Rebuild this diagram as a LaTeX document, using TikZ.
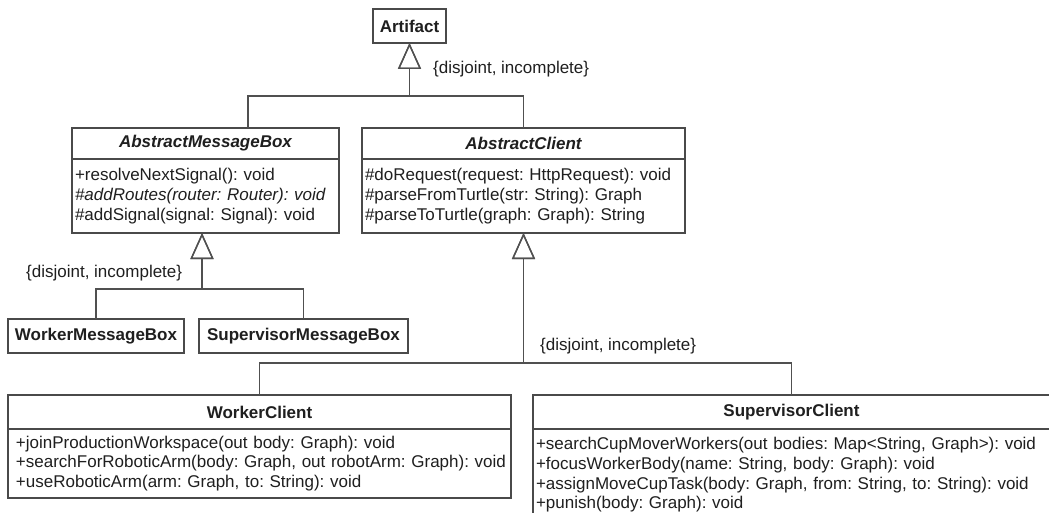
\documentclass[tikz,border=0pt]{standalone}
\usepackage{fontspec}
\setmainfont{Liberation Sans}
\usetikzlibrary{arrows.meta}
\definecolor{boxc}{HTML}{4A4A4A}
\definecolor{linec}{HTML}{505050}
\definecolor{txtc}{HTML}{1F1F1F}
\frenchspacing
\begin{document}
\begin{tikzpicture}[x=1pt,y=-1pt,
  cls/.style={draw=boxc, line width=1.4pt, fill=white, inner sep=0pt, outer sep=0pt,
              anchor=north west, text=txtc},
  hd/.style={cls, font=\fontsize{17}{20}\selectfont\bfseries},
  absthd/.style={cls, font=\fontsize{17}{20}\selectfont\bfseries\itshape},
  mem/.style={cls, font=\fontsize{17}{19.7}\selectfont\frenchspacing, align=left, inner xsep=3pt},
  gen/.style={draw=linec, line width=1.8pt,
              -{Triangle[open, width=23pt, length=26pt, line width=1.4pt]}},
  gset/.style={font=\fontsize{17}{20}\selectfont\frenchspacing, text=txtc, inner sep=0pt, anchor=west}
]
\useasboundingbox (0,0) rectangle (1049,513);
\fill[white] (0,0) rectangle (1049,513);
\clip (0,0) rectangle (1049,513);

% root class
\node[hd, minimum width=73pt, minimum height=34pt] (art) at (373,9) {Artifact};

% abstract classes
\node[absthd, minimum width=267pt, minimum height=31pt] (amb) at (72,128) {AbstractMessageBox};
\node[mem, minimum width=267pt, minimum height=74pt, text width=261pt] (ambm) at (amb.south west)
  {\mbox{+resolveNextSignal(): void}\\
   \mbox{\textit{\#addRoutes(router: Router): void}}\\
   \mbox{\#addSignal(signal: Signal): void}};

\node[absthd, minimum width=323pt, minimum height=31pt] (ac) at (362,128) {AbstractClient};
\node[mem, minimum width=323pt, minimum height=74pt, text width=317pt] (acm) at (ac.south west)
  {\mbox{\#doRequest(request: HttpRequest): void}\\
   \mbox{\#parseFromTurtle(str: String): Graph}\\
   \mbox{\#parseToTurtle(graph: Graph): String}};

% message boxes
\node[hd, minimum width=176pt, minimum height=34pt] (wmb) at (8,319) {WorkerMessageBox};
\node[hd, minimum width=209pt, minimum height=34pt] (smb) at (199,319) {SupervisorMessageBox};

% clients
\node[hd, minimum width=503pt, minimum height=34pt] (wc) at (8,395) {WorkerClient};
\node[mem, minimum width=503pt, minimum height=69pt, inner xsep=8pt, text width=487pt] (wcm) at (wc.south west)
  {\mbox{+joinProductionWorkspace(out body: Graph): void}\\
   \mbox{+searchForRoboticArm(body: Graph, out robotArm: Graph): void}\\
   \mbox{+useRoboticArm(arm: Graph, to: String): void}};

\node[hd, minimum width=517pt, minimum height=34pt] (sc) at (533,395) {SupervisorClient};
\node[mem, minimum width=517pt, minimum height=92pt, text width=511pt] (scm) at (sc.south west)
  {\mbox{+searchCupMoverWorkers(out bodies: Map<String, Graph>): void}\\
   \mbox{+focusWorkerBody(name: String, body: Graph): void}\\
   \mbox{+assignMoveCupTask(body: Graph, from: String, to: String): void}\\
   \mbox{+punish(body: Graph): void}};

% junction points of the generalization sets
\coordinate (ambhook) at (248,128);
\coordinate (topy) at (0,96);
\coordinate (jtop) at (art.south |- topy);
\coordinate (mby) at (0,289);
\coordinate (mbx) at (202,0);
\coordinate (jmb) at (mbx |- mby);
\coordinate (ambtip) at (mbx |- ambm.south);
\coordinate (cly) at (0,363);
\coordinate (jcl) at (acm.south |- cly);

% generalizations
\draw[gen] (ambhook) |- (jtop) -- (art.south);
\draw[gen] (ac.north) |- (jtop) -- (art.south);
\draw[gen] (wmb.north) |- (jmb) -- (ambtip);
\draw[gen] (smb.north) |- (jmb) -- (ambtip);
\draw[gen] (wc.north) |- (jcl) -- (acm.south);
\draw[gen] (sc.north) |- (jcl) -- (acm.south);

% generalization set constraints
\node[gset] (g1) at (433,69) {\{disjoint, incomplete\}};
\node[gset] (g2) at (26,273) {\{disjoint, incomplete\}};
\node[gset] (g3) at (540,346) {\{disjoint, incomplete\}};
\end{tikzpicture}
\end{document}
